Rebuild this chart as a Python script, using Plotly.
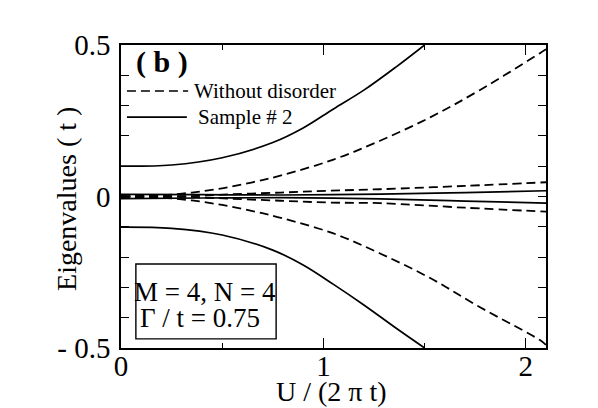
import plotly.graph_objects as go

# ---- data ----
# Without disorder (dashed)
u_dash_outer = [0, 0.2, 0.35, 0.5, 0.65, 0.8, 1.05, 1.28, 1.53, 1.77, 2.07, 2.1]
e_dash_outer_up = [0, 0.004, 0.013, 0.027, 0.047, 0.071, 0.122, 0.184, 0.262, 0.350, 0.473, 0.486]
e_dash_outer_dn = [0, -0.004, -0.013, -0.028, -0.048, -0.072, -0.122, -0.188, -0.270, -0.364, -0.474, -0.490]

u_dash_inner = [0, 0.3, 0.46, 0.79, 1.03, 1.28, 1.7, 2.1]
e_dash_inner_up = [0, 0.0, 0.005, 0.013, 0.019, 0.024, 0.035, 0.047]
e_dash_inner_dn = [0, 0.0, -0.005, -0.014, -0.020, -0.022, -0.037, -0.050]

u_dash_zero = [0, 0.35]
e_dash_zero = [0, 0]

# Sample # 2 (solid)
u_solid_outer = [0, 0.25, 0.5, 0.75, 0.9, 1.05, 1.2, 1.36, 1.5]
e_solid_outer_up = [0.100, 0.104, 0.128, 0.178, 0.226, 0.289, 0.351, 0.428, 0.500]
e_solid_outer_dn = [-0.101, -0.105, -0.127, -0.177, -0.226, -0.290, -0.358, -0.435, -0.500]

u_solid_inner = [0, 0.4, 0.79, 1.28, 1.7, 2.1]
e_solid_inner_up = [0.007, 0.006, 0.005, 0.008, 0.013, 0.019]
e_solid_inner_dn = [-0.007, -0.005, -0.004, -0.008, -0.015, -0.022]

x_tickvals = [0, 1, 2]
x_ticktext = ["0", "1", "2"]
y_tickvals = [-0.5, 0, 0.5]
y_ticktext = ["- 0.5", "0", "0.5"]

FONT = "Liberation Serif, Times New Roman, serif"

fig = go.Figure()

dash_style = dict(color="black", width=1.8, dash="9px,5px")
solid_style = dict(color="black", width=1.7)

for u, e in [(u_dash_zero, e_dash_zero),
             (u_dash_outer, e_dash_outer_up), (u_dash_outer, e_dash_outer_dn),
             (u_dash_inner, e_dash_inner_up), (u_dash_inner, e_dash_inner_dn)]:
    fig.add_trace(go.Scatter(x=u, y=e, mode="lines", line=dict(shape="spline", **dash_style),
                             showlegend=False, name="Without disorder"))

for u, e in [(u_solid_outer, e_solid_outer_up), (u_solid_outer, e_solid_outer_dn),
             (u_solid_inner, e_solid_inner_up), (u_solid_inner, e_solid_inner_dn)]:
    fig.add_trace(go.Scatter(x=u, y=e, mode="lines", line=dict(shape="spline", **solid_style),
                             showlegend=False, name="Sample # 2"))

# page has an 8px body margin; figure is sized so the plot lands where the reference has it
fig.update_layout(
    width=590, height=400,
    margin=dict(l=113, r=52, t=37, b=60),
    paper_bgcolor="white", plot_bgcolor="white",
    font=dict(family=FONT, color="black"),
    showlegend=False,
)

fig.update_xaxes(
    range=[0, 2.1], showgrid=False, zeroline=False,
    showline=True, linecolor="black", linewidth=1.5, mirror="ticks",
    ticks="inside", ticklen=10, tickwidth=1.3, tickcolor="black",
    tickvals=x_tickvals, ticktext=x_ticktext,
    tickfont=dict(size=29, family=FONT), ticklabelstandoff=-9,
    minor=dict(dtick=0.5, ticks="inside", ticklen=5, tickwidth=1.3, tickcolor="black", showgrid=False),
    automargin=False,
)
fig.update_yaxes(
    range=[-0.5, 0.5], showgrid=False, zeroline=False,
    showline=True, linecolor="black", linewidth=1.5, mirror="ticks",
    ticks="inside", ticklen=8, tickwidth=1.3, tickcolor="black",
    tickvals=y_tickvals, ticktext=y_ticktext,
    tickfont=dict(size=29, family=FONT), ticklabelstandoff=3,
    minor=dict(dtick=0.1, ticks="inside", ticklen=8, tickwidth=1.3, tickcolor="black", showgrid=False),
    automargin=False,
)

# axis titles
fig.add_annotation(xref="paper", yref="paper", x=0.495, y=-0.145, xanchor="center", yanchor="middle",
                   text="U / (2 π t)", showarrow=False, font=dict(size=28, family=FONT))
fig.add_annotation(xref="paper", yref="paper", x=-0.127, y=0.492, xanchor="center", yanchor="middle",
                   text="Eigenvalues ( t )", textangle=-90, showarrow=False, font=dict(size=28, family=FONT))

# legend drawn inside the plot
fig.add_shape(type="line", xref="paper", yref="paper", x0=0.014, x1=0.158, y0=0.848, y1=0.848,
              line=dict(color="black", width=1.6, dash="9px,5px"))
fig.add_shape(type="line", xref="paper", yref="paper", x0=0.014, x1=0.155, y0=0.762, y1=0.762,
              line=dict(color="black", width=1.6))
fig.add_annotation(xref="paper", yref="paper", x=0.166, y=0.848, xanchor="left", yanchor="middle",
                   text="Without disorder", showarrow=False, font=dict(size=21, family=FONT))
fig.add_annotation(xref="paper", yref="paper", x=0.176, y=0.762, xanchor="left", yanchor="middle",
                   text="Sample # 2", showarrow=False, font=dict(size=21, family=FONT))
fig.add_annotation(xref="paper", yref="paper", x=0.031, y=0.945, xanchor="left", yanchor="middle",
                   text="<b>( b )</b>", showarrow=False, font=dict(size=30, family=FONT))

# parameter box
fig.add_shape(type="rect", xref="paper", yref="paper", x0=0.035, x1=0.365, y0=0.030, y1=0.277,
              line=dict(color="black", width=1.4), fillcolor="rgba(0,0,0,0)")
fig.add_annotation(xref="paper", yref="paper", x=0.198, y=0.185, xanchor="center", yanchor="middle",
                   text="M = 4, N = 4", showarrow=False, font=dict(size=27, family=FONT))
fig.add_annotation(xref="paper", yref="paper", x=0.186, y=0.099, xanchor="center", yanchor="middle",
                   text="Γ / t = 0.75", showarrow=False, font=dict(size=27, family=FONT))

fig.write_html("out.html")
